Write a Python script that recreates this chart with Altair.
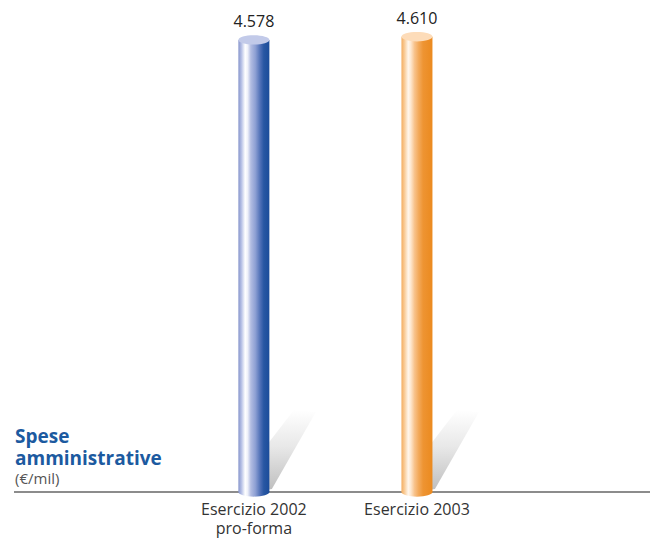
import altair as alt
import pandas as pd

# ---- data ----
categories = ["Esercizio 2002", "Esercizio 2003"]
sublines = ["pro-forma", ""]
values = [4578, 4610]
value_labels = ["4.578", "4.610"]

df = pd.DataFrame({
    "cat": categories,
    "val": values,
    "lab": value_labels,
    "base": [0, 0],
    "xlab": [c + ("\n" + s if s else "") for c, s in zip(categories, sublines)],
})

W, H = 636, 474
FONT = "Open Sans"

xscale = alt.Scale(domain=categories, paddingInner=0, paddingOuter=0.95, align=0.511)
yscale = alt.Scale(domain=[0, 4800], zero=True, nice=False)
X = alt.X("cat:N", scale=xscale, axis=None)
Y = alt.Y("val:Q", scale=yscale, axis=None)
Y0 = alt.Y("base:Q", scale=yscale, axis=None)

ELLIPSE = "M -1 0 A 1 0.3 0 1 0 1 0 A 1 0.3 0 1 0 -1 0 Z"
SHADOW = "M 0 0 L 18 -3 L 62 -80 L 40 -82 L 0 -30 Z"
BAR_W = 31


def hgrad(stops):
    return alt.Gradient(gradient="linear", x1=0, y1=0, x2=1, y2=0,
                        stops=[alt.GradientStop(offset=o, color=c) for o, c in stops])


styles = {
    "Esercizio 2002": dict(
        grad=hgrad([(0, "#8795cc"), (0.1, "#b7c1e6"), (0.22, "#ffffff"), (0.3, "#eef0f9"),
                    (0.4, "#b3bde2"), (0.55, "#8d9fd3"), (0.72, "#4a6cb4"), (0.82, "#2857a3"),
                    (1, "#1b4c9a")]),
        cap="#c2cae9"),
    "Esercizio 2003": dict(
        grad=hgrad([(0, "#f4ad60"), (0.1, "#f9cc98"), (0.22, "#fff6ec"), (0.3, "#fee8d0"),
                    (0.42, "#f8c38c"), (0.55, "#f3aa5c"), (0.7, "#ee9432"), (1, "#eb8a1f")]),
        cap="#fddcb9"),
}

shadow_grad = alt.Gradient(gradient="linear", x1=0, y1=0, x2=0, y2=1,
                           stops=[alt.GradientStop(offset=0, color="#ffffff"),
                                  alt.GradientStop(offset=0.45, color="#e8e8e8"),
                                  alt.GradientStop(offset=1, color="#bdbdbd")])

layers = []

# baseline
layers.append(
    alt.Chart(df.head(1)).mark_rule(color="#666666", strokeWidth=1.5).encode(
        y=Y0, x=alt.value(0), x2=alt.value(W))
)

for cat in categories:
    st = styles[cat]
    base = alt.Chart(df).transform_filter(alt.datum.cat == cat)
    layers.append(base.mark_point(shape=SHADOW, size=4, filled=True, fill=shadow_grad,
                                  opacity=1, strokeWidth=0).encode(x=X, y=Y0))
    layers.append(base.mark_bar(fill=st["grad"], width=BAR_W).encode(x=X, y=Y, y2="base:Q"))
    layers.append(base.mark_point(shape=ELLIPSE, size=BAR_W ** 2, filled=True, fill=st["grad"],
                                  opacity=1, strokeWidth=0).encode(x=X, y=Y0))
    layers.append(base.mark_point(shape=ELLIPSE, size=BAR_W ** 2, filled=True, fill=st["cap"],
                                  opacity=1, strokeWidth=0).encode(x=X, y=Y))

# value labels
layers.append(alt.Chart(df).mark_text(dy=-13, fontSize=16, font=FONT, color="#222222",
                                      baseline="alphabetic").encode(x=X, y=Y, text="lab:N"))
# category labels
layers.append(alt.Chart(df).mark_text(dy=10, fontSize=16, font=FONT, color="#333333",
                                      baseline="top", lineBreak="\n", lineHeight=19)
              .encode(x=X, y=Y0, text="xlab:N"))

# left title
layers.append(alt.Chart(pd.DataFrame({"t": ["Spese"]})).mark_text(
    align="left", baseline="alphabetic", fontSize=19, fontWeight="bold", font=FONT,
    color="#1c5aa0").encode(x=alt.value(1), y=alt.value(425), text="t:N"))
layers.append(alt.Chart(pd.DataFrame({"t": ["amministrative"]})).mark_text(
    align="left", baseline="alphabetic", fontSize=19, fontWeight="bold", font=FONT,
    color="#1c5aa0").encode(x=alt.value(1), y=alt.value(447), text="t:N"))
layers.append(alt.Chart(pd.DataFrame({"t": ["(€/mil)"]})).mark_text(
    align="left", baseline="alphabetic", fontSize=15, font=FONT,
    color="#555555").encode(x=alt.value(1), y=alt.value(466), text="t:N"))

chart = alt.layer(*layers).properties(
    width=W, height=H,
    autosize=alt.AutoSizeParams(type="none"),
    padding={"left": 14, "top": 18, "right": 1, "bottom": 49},
).configure(background="white").configure_view(stroke=None, strokeWidth=0)

chart.save("out.html", embed_options={"renderer": "svg", "actions": False})
